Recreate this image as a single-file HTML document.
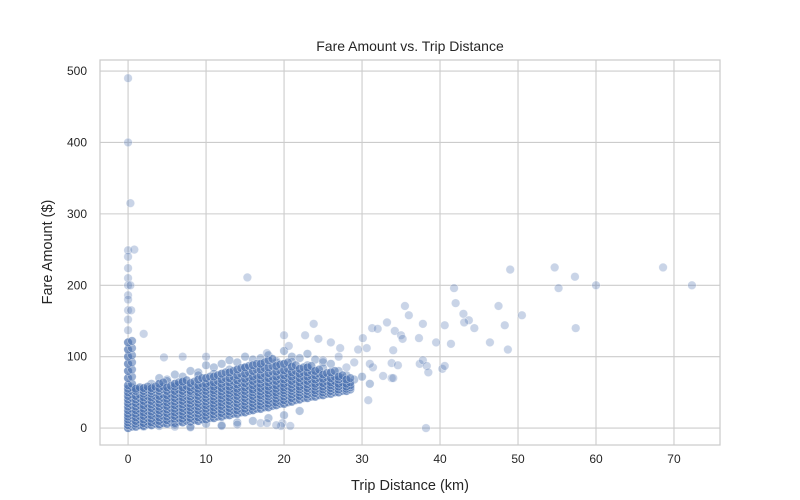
<!DOCTYPE html>
<html><head><meta charset="utf-8"><style>
body{margin:0;background:#fff;}
svg{display:block;font-family:"Liberation Sans","DejaVu Sans",sans-serif;}
</style></head><body>
<svg id="chart" width="800" height="500"></svg>
<script>
const xTicks=[0,10,20,30,40,50,60,70];
const yTicks=[0,100,200,300,400,500];
const outlierDist=[0,0,0.3,0,0.8,0,0,0,0,0.3,0,0,0,0.4,0,0,2,15.3,49,54.7,57.3,60,68.6,72.3,55.2,41.8,42,47.5,50.5,57.4,35.5,36,33.2,34.2,35,35.2,37.8,37.3,34,39.5,40.6,41.4,43,43.7,43.1,44.4,48.3,46.4,48.7,33.8,34.6,37.4,37.8,38.3,38.5,40.3,40.6,33.8,38.2,23.8,20,31.3,32,30.1,30.6,22.7,24.4,26,20.6,27.2,29.5,17.8,7,4.6,30.8,17,17.8,19.8,20.8,19.6,28,31.4,34,32.7,12,14,19,6,8,10,25,27,29,31];
const outlierFare=[490,400,315,249,250,240,224,210,200,200,186,180,165,165,152,137,132,211,222,225,212,200,225,200,196,196,175,171,158,140,171,158,148,136,130,125,146,126,109,120,144,118,160,151,148,140,144,120,110,91,88,90,95,87,78,83,87,70,0,146,130,140,139,126,112,130,125,120,115,112,110,105,100,99,39,7,7,7,3,3,85,85,70,73,3,5,4,2,1,100,95,100,92,90];
const fringeDist=[3,4,5,6,7,8,9,10,11,12,13,14,15,16,17,18,19,20,21,22,23,24,25,26,2,4,6,8,10,12,14,16,18,20,22,5,9,13,17,21,25,27,28,29,30,31,3,7,11,15,19,23];
const fringeFare=[62,70,68,75,72,80,78,88,85,90,95,92,100,96,98,102,94,108,100,98,104,96,92,90,2,3,5,2,6,4,8,10,14,18,24,66,74,82,86,93,84,80,74,68,72,62,58,64,76,84,92,88];
const cloudDist=[0,1,2,3,4,5,6,7,8,9,10,11,12,13,14,15,16,17,18,19,20,21,22,23,24,25,26,27,28];
const cloudFares=[
[0,4,8,12,16,20,25,30,35,40,45,50,55,60,70,80,90,100,110,120],
[2,6,10,15,20,25,30,35,40,45,52,55],
[3,7,12,17,22,27,32,38,43,48,52,56],
[4,8,13,18,23,28,33,38,43,48,52,56],
[5,10,15,20,25,30,35,40,45,52,56,62],
[6,11,16,21,26,31,36,41,46,52,57],
[7,12,17,22,27,32,37,42,47,52,58,62],
[8,13,18,23,28,33,38,43,48,52,57,65],
[9,14,19,24,29,34,39,44,49,52,57,63],
[10,15,20,25,30,35,40,45,50,55,60,68],
[12,17,22,27,32,37,42,47,52,57,62,70],
[14,19,24,29,34,39,44,49,53,58,64,72],
[16,21,26,31,36,41,46,51,56,62,68,76],
[18,23,28,33,38,43,48,53,58,64,70,78],
[20,25,30,35,40,45,50,55,61,67,74,82],
[22,27,32,37,42,47,52,57,63,69,76,85],
[25,30,35,40,45,50,54,60,66,72,80,88],
[27,32,37,42,46,51,56,62,68,74,82,90],
[29,34,39,44,48,53,58,64,70,77,85,95],
[32,36,41,46,50,55,60,66,72,79,87],
[34,39,44,49,53,57,62,68,74,81,90],
[37,42,47,52,56,61,66,72,78,86],
[40,45,50,54,58,64,70,76,83],
[42,47,52,56,61,66,72,78,85],
[44,49,53,58,62,68,74,80],
[46,50,54,58,63,69,75],
[48,52,56,60,64,70,78],
[50,54,58,62,68,72],
[52,55,58,62,68]];

const NS="http://www.w3.org/2000/svg";
const svg=document.getElementById('chart');
const L=100,R=720,T=60,B=445;
const xMin=-3.6,xMax=75.9,yMin=-23.7,yMax=515.5;
const xs=v=>L+(v-xMin)/(xMax-xMin)*(R-L);
const ys=v=>B-(v-yMin)/(yMax-yMin)*(B-T);
function mk(tag,attrs,parent){const e=document.createElementNS(NS,tag);for(const k in attrs)e.setAttribute(k,attrs[k]);(parent||svg).appendChild(e);return e;}

const frame=mk('rect',{x:L,y:T,width:R-L,height:B-T,fill:'#fff',stroke:'#cccccc','stroke-width':1.25});


const grid=mk('g',{});


xTicks.forEach(t=>{
  const x=xs(t);
  const gl=mk('line',{x1:x,x2:x,y1:T,y2:B,stroke:'#cccccc','stroke-width':1.1},grid);
  
  
  const tl=mk('text',{x:x,y:B+18,'text-anchor':'middle','font-size':12,fill:'#262626'});
  tl.textContent=t;
  
  
});
yTicks.forEach(t=>{
  const y=ys(t);
  const gl=mk('line',{x1:L,x2:R,y1:y,y2:y,stroke:'#cccccc','stroke-width':1.1},grid);
  
  
  const tl=mk('text',{x:L-13,y:y+4,'text-anchor':'end','font-size':12,fill:'#262626'});
  tl.textContent=t;
  
  
});
const pts=mk('g',{});


function dot(d,f,op){
  const c=mk('circle',{cx:xs(d),cy:ys(f),r:4.3,fill:'#4c72b0','fill-opacity':op,stroke:'#ffffff','stroke-opacity':0.5,'stroke-width':0.6},pts);
  
  
}
fringeDist.forEach((d,i)=>dot(d,fringeFare[i],0.4));
cloudDist.forEach((d,i)=>{cloudFares[i].forEach(f=>{dot(d,f,0.7);dot(d+0.5,f+2,0.55);});});
outlierDist.forEach((d,i)=>dot(d,outlierFare[i],0.3));

const title=mk('text',{x:410,y:51,'text-anchor':'middle','font-size':14,fill:'#262626'});
title.textContent='Fare Amount vs. Trip Distance';


const xl=mk('text',{x:410,y:490,'text-anchor':'middle','font-size':14.5,fill:'#262626'});
xl.textContent='Trip Distance (km)';


const yl=mk('text',{x:52,y:252,'text-anchor':'middle','font-size':14.5,fill:'#262626',transform:'rotate(-90 52 252)'});
yl.textContent='Fare Amount ($)';


</script>
</body></html>
